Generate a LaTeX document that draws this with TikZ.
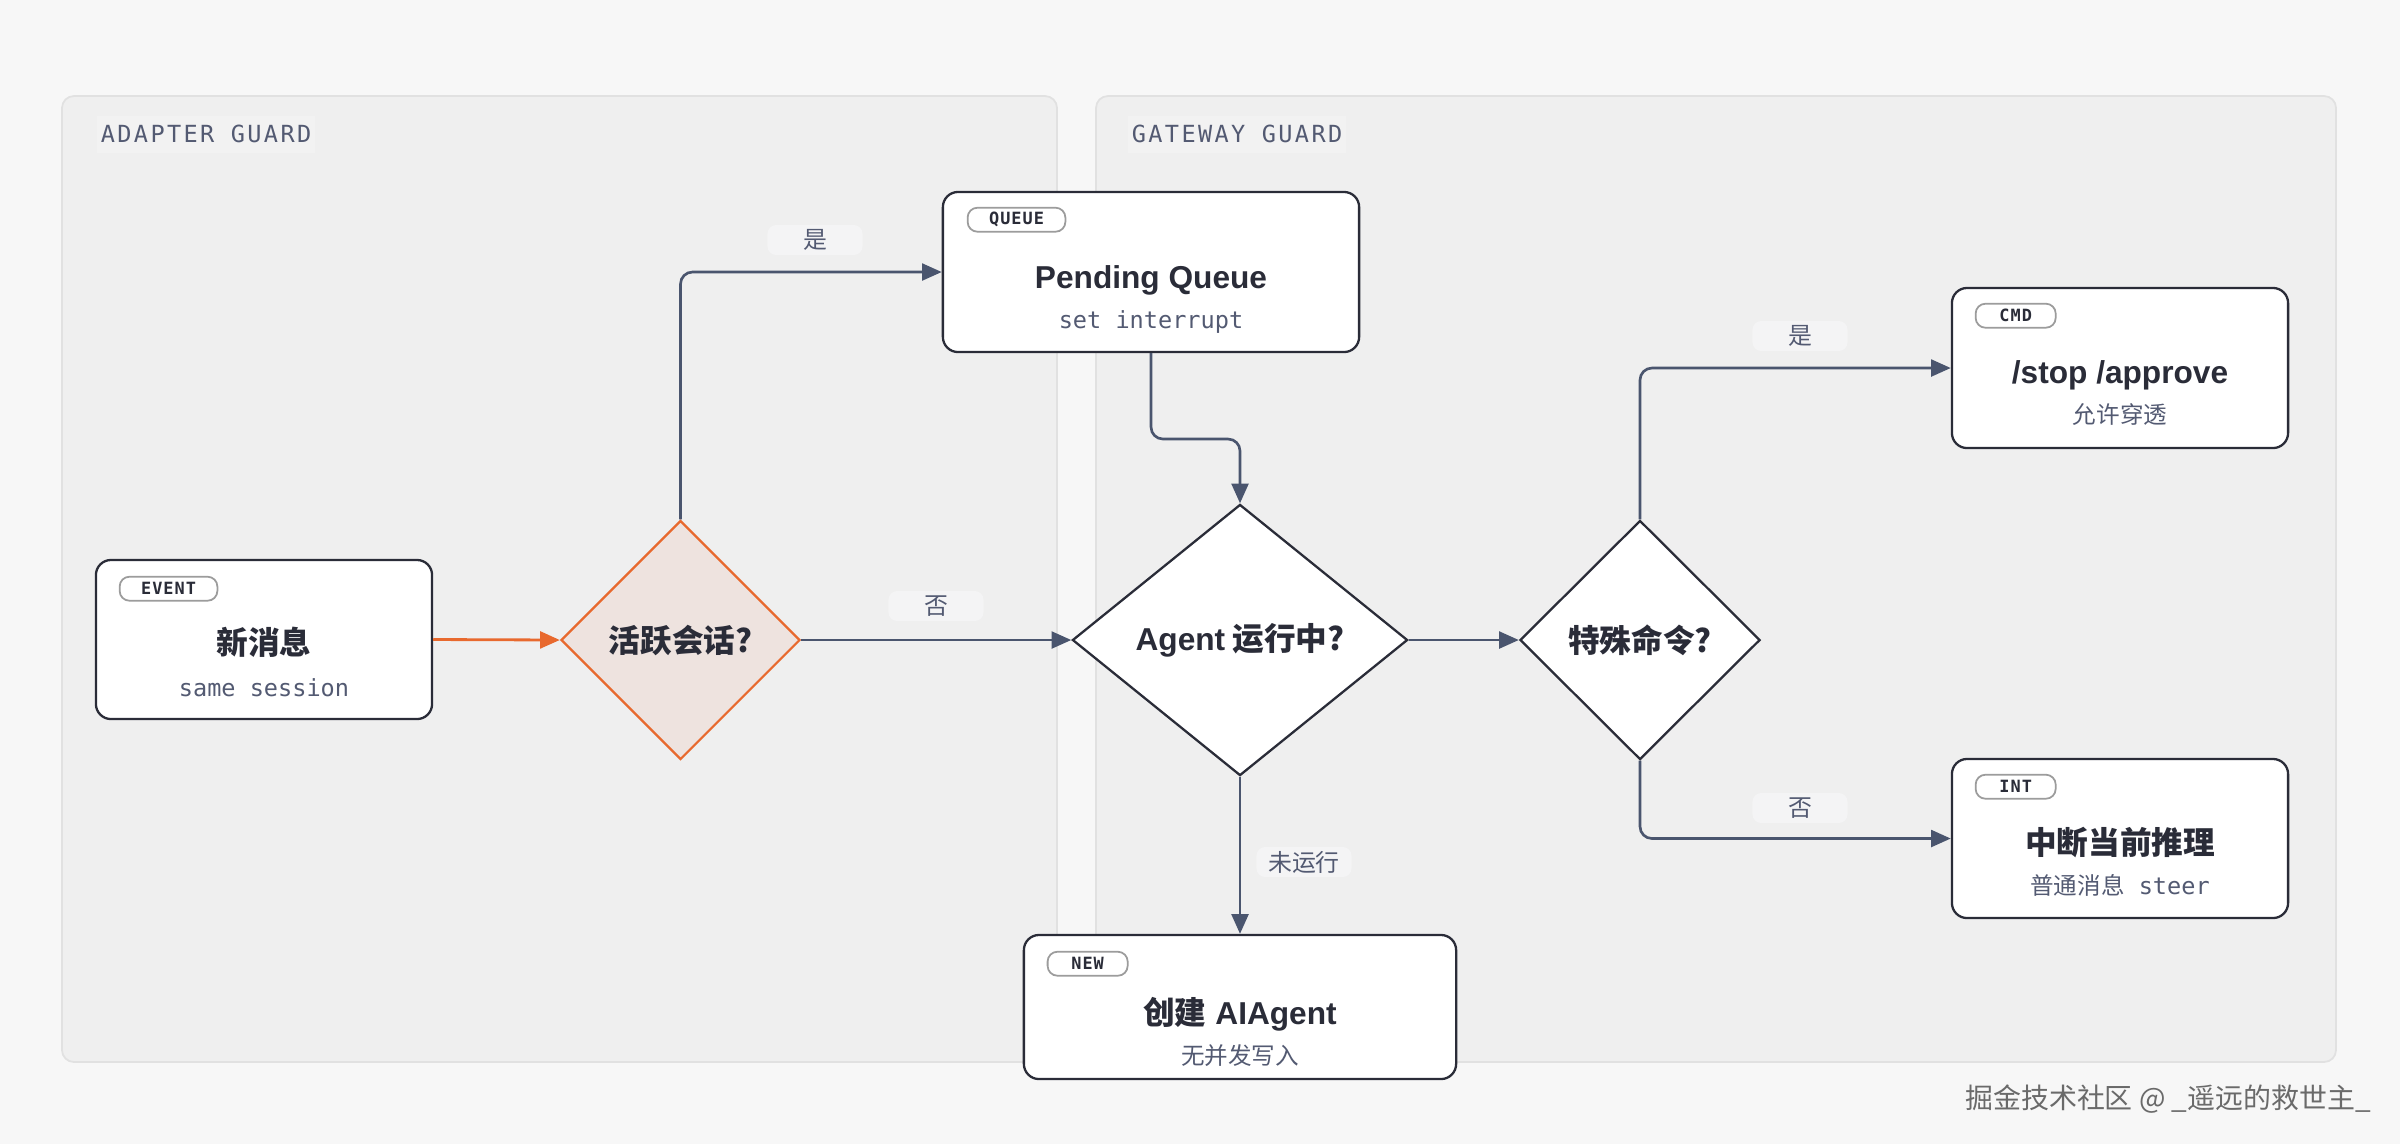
\documentclass[tikz,border=0pt]{standalone}
\usepackage{fontspec}
\setmainfont{Liberation Sans}
\newfontfamily\cjk{Noto Sans CJK SC}
\newfontfamily\mono{DejaVu Sans Mono}
\newfontfamily\monols{DejaVu Sans Mono}[LetterSpace=10]
\newfontfamily\monotag{DejaVu Sans Mono}[LetterSpace=6]
\usetikzlibrary{arrows.meta,shapes.geometric}
\definecolor{bgc}{HTML}{F7F7F7}
\definecolor{panelc}{HTML}{EFEFEF}
\definecolor{panelb}{HTML}{E1E1E1}
\definecolor{panellbl}{HTML}{F2F2F2}
\definecolor{ink}{HTML}{2A2C38}
\definecolor{subc}{HTML}{535A72}
\definecolor{linec}{HTML}{4A556E}
\definecolor{orangec}{HTML}{E8692E}
\definecolor{dfill}{HTML}{EEE3DF}
\definecolor{tagb}{HTML}{9C9C9C}
\definecolor{lblbg}{HTML}{F4F4F5}
\definecolor{wmc}{HTML}{6A6A6A}
\tikzset{
  panel/.style={fill=panelc, draw=panelb, line width=0.5pt, rounded corners=3.4pt},
  panellabel/.style={anchor=west, fill=panellbl, inner xsep=1.2pt, inner ysep=0pt, minimum height=0.37cm, text=subc, font=\monols\fontsize{6.7pt}{8pt}\selectfont},
  box/.style={draw=ink, line width=0.65pt, fill=white, rounded corners=4.3pt, inner sep=0pt},
  dia/.style={diamond, draw=ink, line width=0.65pt, fill=white, inner sep=0pt, text=ink, font=\cjk\bfseries\fontsize{9pt}{10pt}\selectfont},
  tagbox/.style={anchor=north west, draw=tagb, line width=0.5pt, fill=white, rounded corners=2.8pt, minimum height=0.24cm, minimum width=0.8cm, inner xsep=6.1pt, inner ysep=0pt, text=ink, font=\monotag\bfseries\fontsize{4.8pt}{5pt}\selectfont},
  ttl/.style={anchor=base, inner sep=0pt, text=ink, font=\bfseries\fontsize{9pt}{10pt}\selectfont},
  subt/.style={anchor=base, inner sep=0pt, text=subc, font=\mono\fontsize{6.7pt}{8pt}\selectfont},
  arr/.style={draw=linec, line width=0.75pt, rounded corners=3.4pt, -{Triangle[length=5.6pt,width=4.8pt]}},
  arro/.style={draw=orangec, line width=0.8pt, -{Triangle[length=5.6pt,width=4.8pt]}},
  lbl/.style={fill=lblbg, rounded corners=2.5pt, minimum width=0.95cm, minimum height=0.3cm, inner sep=0pt, text=subc, font=\cjk\fontsize{6.8pt}{8pt}\selectfont},
}
\begin{document}
\begin{tikzpicture}[x=0.01cm, y=-0.01cm]
\useasboundingbox (0,0) rectangle (2400,1144);
\fill[bgc] (0,0) rectangle (2400,1144);

% panels
\draw[panel] (62,96) rectangle (1057,1062);
\draw[panel] (1096,96) rectangle (2336,1062);
\node[panellabel] (lblA) at (96,134) {ADAPTER GUARD};
\node[panellabel] (lblG) at (1127,134) {GATEWAY GUARD};

% boxes
\node[box, minimum width=3.36cm, minimum height=1.59cm] (ev) at (264,639.5) {};
\node[box, minimum width=4.16cm, minimum height=1.60cm] (pq) at (1151,272) {};
\node[box, minimum width=3.36cm, minimum height=1.60cm] (st) at (2120,368) {};
\node[box, minimum width=3.36cm, minimum height=1.59cm] (it) at (2120,838.5) {};
\node[box, minimum width=4.32cm, minimum height=1.44cm] (cr) at (1240,1007) {};

% tags
\node[tagbox] (tev) at ([shift={(24,17)}]ev.north west) {EVENT};
\node[tagbox] (tpq) at ([shift={(25,16)}]pq.north west) {QUEUE};
\node[tagbox] (tst) at ([shift={(24,16)}]st.north west) {CMD};
\node[tagbox] (tit) at ([shift={(24,16)}]it.north west) {INT};
\node[tagbox] (tcr) at ([shift={(24,17)}]cr.north west) {NEW};

% titles and subtitles
\node[ttl] (ev1) at (264,654) {\cjk 新消息};
\node[subt] (ev2) at (264,696) {same session};
\node[ttl] (pq1) at (1151,288) {Pending Queue};
\node[subt] (pq2) at (1151,328.5) {set interrupt};
\node[ttl] (st1) at (2120,383) {/stop /approve};
\node[subt] (st2) at (2120,423.5) {\cjk 允许穿透};
\node[ttl] (it1) at (2120,854) {\cjk 中断当前推理};
\node[subt] (it2) at (2120,894.5) {{\cjk 普通消息} steer};
\node[ttl] (cr1) at (1240,1024) {{\cjk 创建} AIAgent};
\node[subt] (cr2) at (1240,1064.5) {\cjk 无并发写入};

% diamonds
\node[dia, fill=dfill, draw=orangec, minimum width=2.39cm, minimum height=2.39cm] (d1) at (680.5,640) {活跃会话?};
\node[dia, minimum width=3.35cm, minimum height=2.71cm] (ag) at (1240,640) {{\rmfamily\bfseries Agent} 运行中?};
\node[dia, minimum width=2.40cm, minimum height=2.39cm] (sp) at (1640,640) {特殊命令?};

% connectors
\coordinate (qy) at (0,439);
\draw[arro] (ev.east) -- (d1.west);
\draw[arr] (d1.north) |- (pq.west);
\draw[arr] (d1.east) -- (ag.west);
\draw[arr] (pq.south) -- (pq.south |- qy) -| (ag.north);
\draw[arr] (ag.east) -- (sp.west);
\draw[arr] (ag.south) -- (cr.north);
\draw[arr] (sp.north) |- (st.west);
\draw[arr] (sp.south) |- (it.west);

% edge labels
\node[lbl] (l1) at (815,240) {是};
\node[lbl] (l2) at (936,606) {否};
\node[lbl] (l3) at (1304,862) {未运行};
\node[lbl] (l4) at (1800,336) {是};
\node[lbl] (l5) at (1800,808) {否};

% watermark
\node[text=wmc, font=\cjk\fontsize{7.95pt}{9pt}\selectfont, inner sep=0pt] (wm) at (2168,1099) {掘金技术社区 @ \_遥远的救世主\_};
\end{tikzpicture}
\end{document}
